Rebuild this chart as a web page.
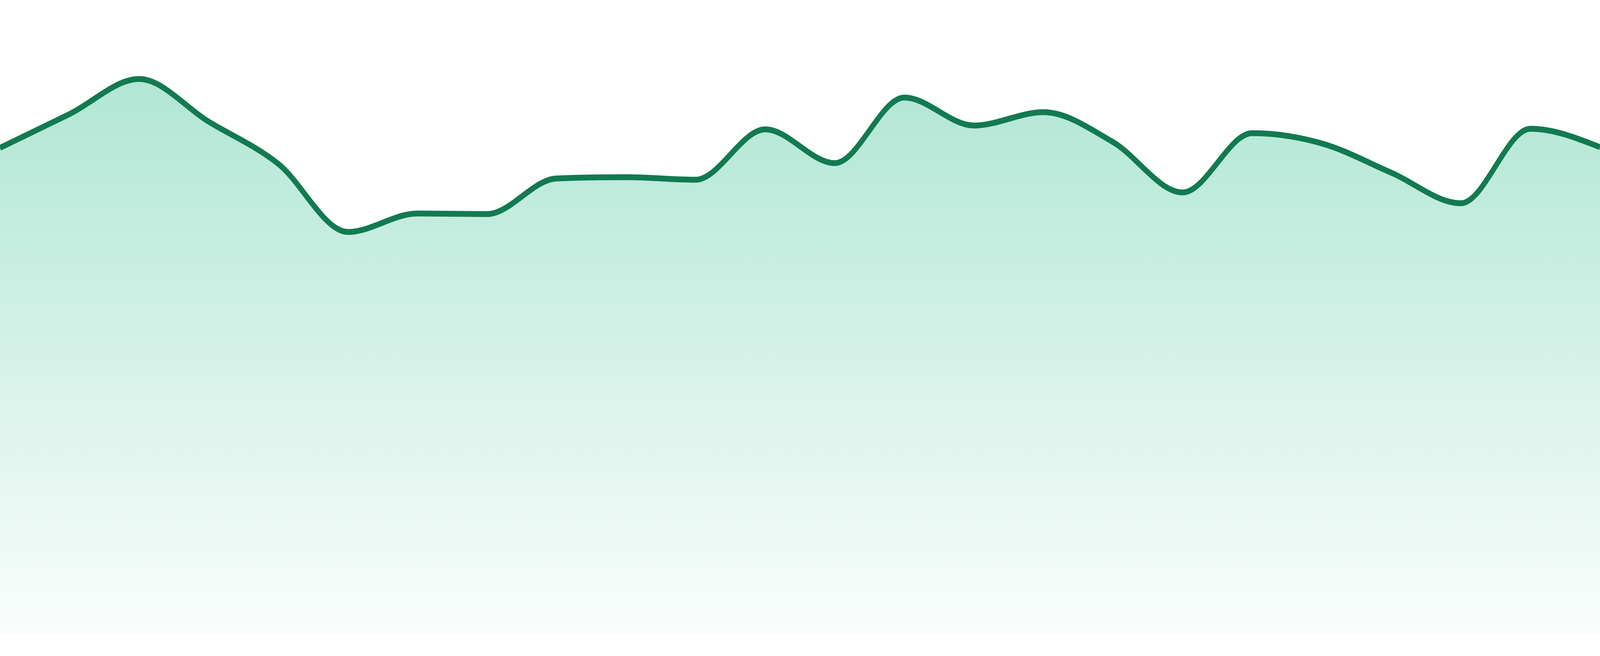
<!DOCTYPE html>
<html>
<head>
<meta charset="utf-8">
<script src="https://cdn.jsdelivr.net/npm/d3@7"></script>
<style>
  html, body { margin: 0; padding: 0; background: #ffffff; overflow: hidden; }
  #chart { width: 100vw; height: 100vh; }
  svg { display: block; }
</style>
</head>
<body>
<div id="chart"></div>
<script>
// one point per period, no axes shown
const categories = ['P01', 'P02', 'P03', 'P04', 'P05', 'P06', 'P07', 'P08',
  'P09', 'P10', 'P11', 'P12', 'P13', 'P14', 'P15', 'P16',
  'P17', 'P18', 'P19', 'P20', 'P21', 'P22', 'P23', 'P24']
const values = [76.8, 82.1, 87.6, 80.9, 74.3, 63.6, 66.5, 66.4,
  72.0, 72.2, 71.8, 79.7, 74.4, 84.7, 80.3, 82.4,
  77.7, 69.8, 79.1, 77.5, 72.9, 68.1, 79.8, 76.9]
const yDomain = [0, 100]

// drawing space, stretched to whatever the window is
const margin = { top: 0, left: 0, right: 0, bottom: 48 }
const width = 4800 - margin.left - margin.right
const height = 1680 - margin.top - margin.bottom

const svg = d3
  .select('#chart')
  .append('svg')
  .attr('width', '100%')
  .attr('height', '100%')
  .attr('viewBox', '0 0 ' + (width + margin.left + margin.right) + ' ' + (height + margin.top + margin.bottom))
  .attr('preserveAspectRatio', 'none')
  .append('g')
  .attr('transform', 'translate(' + margin.left + ',' + margin.top + ')')

const xPositionScale = d3
  .scalePoint()
  .domain(categories)
  .range([0, width])

const yPositionScale = d3
  .scaleLinear()
  .domain(yDomain)
  .range([height, 0])

const datapoints = categories.map((c, i) => ({ category: c, value: values[i] }))

// fading fill under the line
const grad = d3
  .select('#chart svg')
  .append('defs')
  .append('linearGradient')
  .attr('id', 'area-fade')
  .attr('x1', 0)
  .attr('x2', 0)
  .attr('y1', 0)
  .attr('y2', 1)

grad.append('stop').attr('offset', '0%').attr('stop-color', '#12b47c').attr('stop-opacity', 0.33)
grad.append('stop').attr('offset', '100%').attr('stop-color', '#12b47c').attr('stop-opacity', 0.02)

const area = d3
  .area()
  .x(d => xPositionScale(d.category))
  .y0(height)
  .y1(d => yPositionScale(d.value))
  .curve(d3.curveMonotoneX)

const line = d3
  .line()
  .x(d => xPositionScale(d.category))
  .y(d => yPositionScale(d.value))
  .curve(d3.curveMonotoneX)

svg
  .append('path')
  .datum(datapoints)
  .attr('d', area)
  .attr('fill', 'url(#area-fade)')

svg
  .append('path')
  .datum(datapoints)
  .attr('d', line)
  .attr('fill', 'none')
  .attr('stroke', '#127a51')
  .attr('stroke-width', 15)
  .attr('stroke-linejoin', 'round')
</script>
</body>
</html>
